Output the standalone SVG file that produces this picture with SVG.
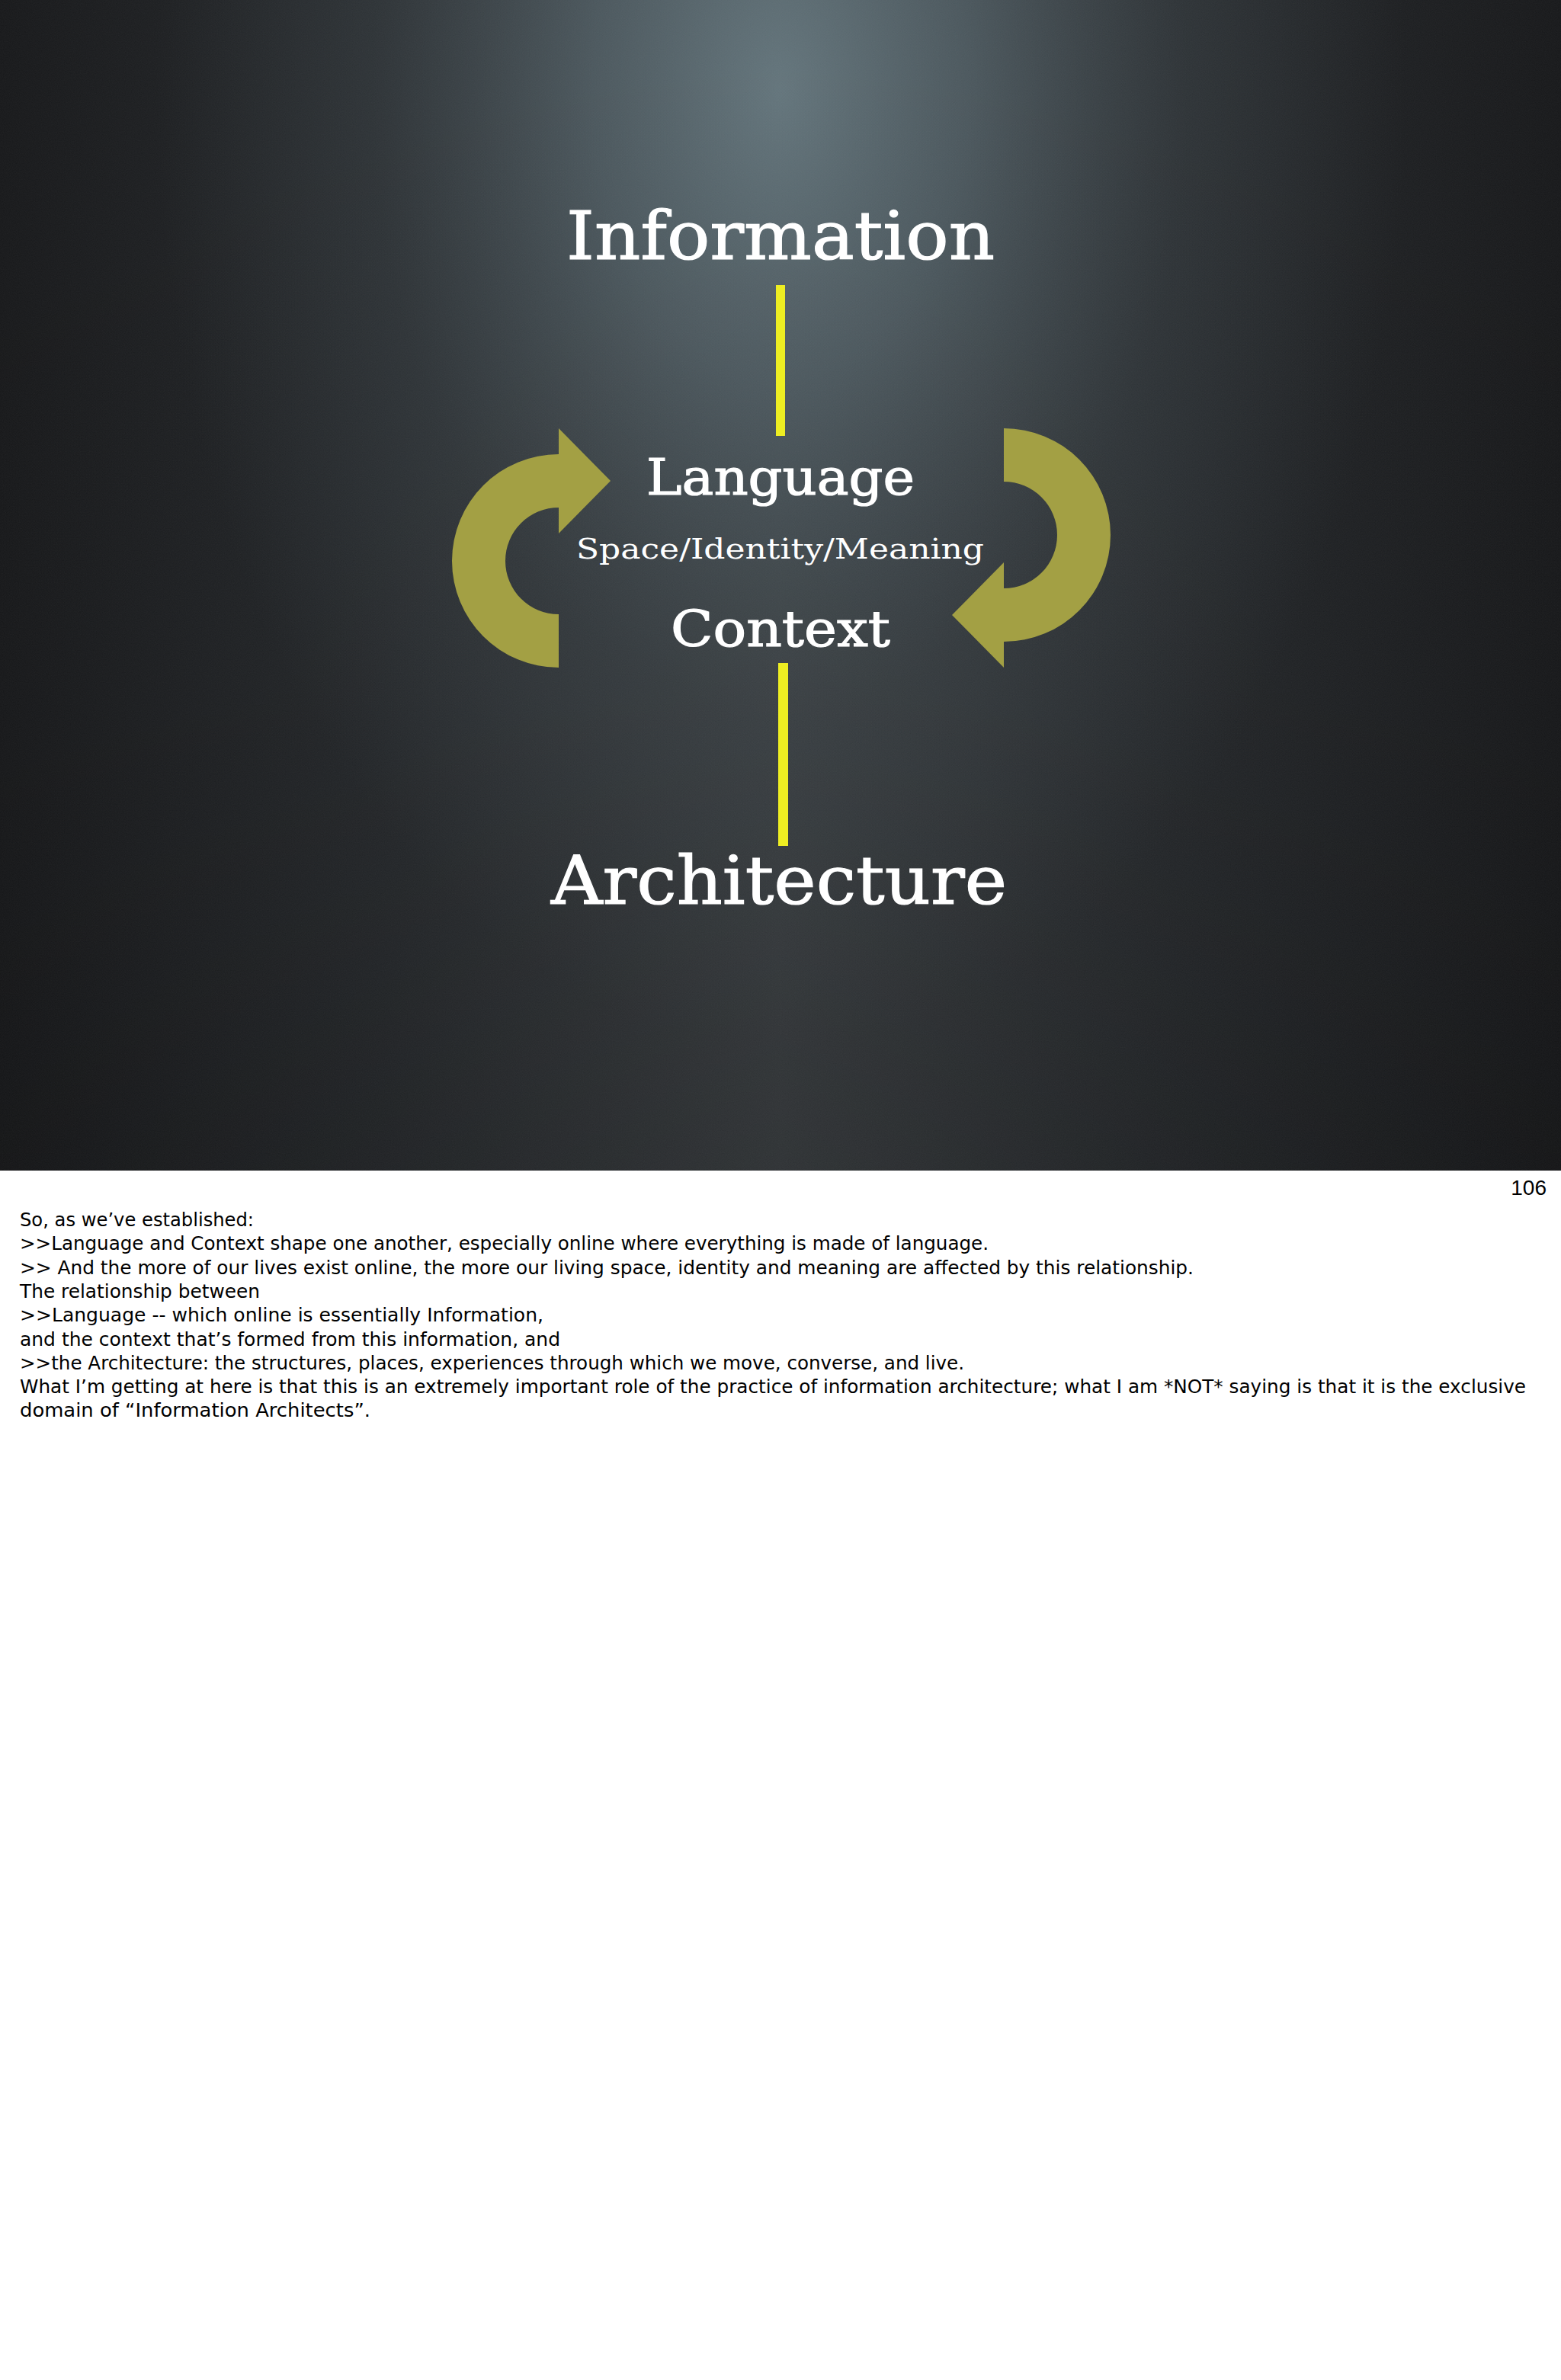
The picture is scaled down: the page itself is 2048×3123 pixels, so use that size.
<svg xmlns="http://www.w3.org/2000/svg" width="2048" height="3123" viewBox="0 0 2048 3123">
<defs>
<linearGradient id="bgH" x1="0" y1="0" x2="2048" y2="0" gradientUnits="userSpaceOnUse">
<stop offset="0" stop-color="#17181a"/>
<stop offset="0.25" stop-color="#25282b"/>
<stop offset="0.5" stop-color="#373b3e"/>
<stop offset="0.75" stop-color="#25282b"/>
<stop offset="1" stop-color="#17181a"/>
</linearGradient>
<radialGradient id="glow" gradientUnits="userSpaceOnUse" cx="0" cy="0" r="1" gradientTransform="translate(1024 120) scale(820 1250)">
<stop offset="0" stop-color="#6f848c" stop-opacity="0.8"/>
<stop offset="0.3" stop-color="#5f7179" stop-opacity="0.6"/>
<stop offset="0.65" stop-color="#4a565c" stop-opacity="0.25"/>
<stop offset="1" stop-color="#4a565c" stop-opacity="0"/>
</radialGradient>
<linearGradient id="vfade" x1="0" y1="0" x2="0" y2="1536" gradientUnits="userSpaceOnUse">
<stop offset="0" stop-color="#000" stop-opacity="0"/>
<stop offset="0.6" stop-color="#000" stop-opacity="0.04"/>
<stop offset="1" stop-color="#000" stop-opacity="0.15"/>
</linearGradient>
<filter id="noise" x="0" y="0" width="1" height="1">
<feTurbulence type="fractalNoise" baseFrequency="0.9" numOctaves="2" seed="3" result="t"/>
<feColorMatrix type="matrix" values="0 0 0 0 0.5  0 0 0 0 0.5  0 0 0 0 0.5  0 0 0 0.06 0" in="t"/>
</filter>
<path id="cyc" d="M733 562 L801 631 L733 700 L733 666 A70 70 0 0 0 733 806 L733 876 A140 140 0 0 1 733 596 Z"/>
</defs>
<style>
.title{font-family:"DejaVu Serif","Liberation Serif",serif;fill:#ffffff;stroke:#ffffff;stroke-width:1.2;text-anchor:start}
.title.small{stroke:none}
.note{font-family:"DejaVu Sans","Liberation Sans",sans-serif;font-size:24px;fill:#000000}
.link{fill:#eeee22}
.cycle{fill:#a3a044}
</style>
<rect x="0" y="0" width="2048" height="3123" fill="#ffffff"/>
<g id="slide-background">
<rect x="0" y="0" width="2048" height="1536" fill="url(#bgH)"/>
<rect x="0" y="0" width="2048" height="1536" fill="url(#glow)"/>
<rect x="0" y="0" width="2048" height="1536" fill="url(#vfade)"/>
<rect x="0" y="0" width="2048" height="1536" filter="url(#noise)"/>
</g>
<g id="connectors">
<rect class="link" x="1018" y="374" width="12" height="198"/>
<rect class="link" x="1021" y="870" width="13" height="240"/>
<use class="cycle" href="#cyc"/>
<use class="cycle" href="#cyc" transform="rotate(180 1025 719)"/>
</g>
<g id="node-information">
<text class="title" x="743" y="340" font-size="88" textLength="562" lengthAdjust="spacingAndGlyphs">Information</text>
</g>
<g id="node-language">
<text class="title" x="848" y="649" font-size="66" textLength="352" lengthAdjust="spacingAndGlyphs">Language</text>
</g>
<g id="node-space">
<text class="title small" x="756" y="733" font-size="37" textLength="535" lengthAdjust="spacingAndGlyphs">Space/Identity/Meaning</text>
</g>
<g id="node-context">
<text class="title" x="880" y="848" font-size="66" textLength="288" lengthAdjust="spacingAndGlyphs">Context</text>
</g>
<g id="node-architecture">
<text class="title" x="723" y="1186" font-size="88" textLength="598" lengthAdjust="spacingAndGlyphs">Architecture</text>
</g>
<g id="page-number">
<text x="2029" y="1568" font-family="'Liberation Sans',Arial,sans-serif" font-size="28" text-anchor="end" fill="#000000">106</text>
</g>
<g id="notes">
<text class="note" x="26" y="1609" textLength="307" lengthAdjust="spacingAndGlyphs">So, as we’ve established:</text>
<text class="note" x="26" y="1640" textLength="1271" lengthAdjust="spacingAndGlyphs">&gt;&gt;Language and Context shape one another, especially online where everything is made of language.</text>
<text class="note" x="26" y="1672" textLength="1540" lengthAdjust="spacingAndGlyphs">&gt;&gt; And the more of our lives exist online, the more our living space, identity and meaning are affected by this relationship.</text>
<text class="note" x="26" y="1703" textLength="315" lengthAdjust="spacingAndGlyphs">The relationship between</text>
<text class="note" x="26" y="1734" textLength="687" lengthAdjust="spacingAndGlyphs">&gt;&gt;Language -- which online is essentially Information,</text>
<text class="note" x="26" y="1766" textLength="709" lengthAdjust="spacingAndGlyphs">and the context that’s formed from this information, and</text>
<text class="note" x="26" y="1797" textLength="1239" lengthAdjust="spacingAndGlyphs">&gt;&gt;the Architecture: the structures, places, experiences through which we move, converse, and live.</text>
<text class="note" x="26" y="1828" textLength="1976" lengthAdjust="spacingAndGlyphs">What I’m getting at here is that this is an extremely important role of the practice of information architecture; what I am *NOT* saying is that it is the exclusive</text>
<text class="note" x="26" y="1859" textLength="460" lengthAdjust="spacingAndGlyphs">domain of “Information Architects”.</text>
</g>
</svg>
